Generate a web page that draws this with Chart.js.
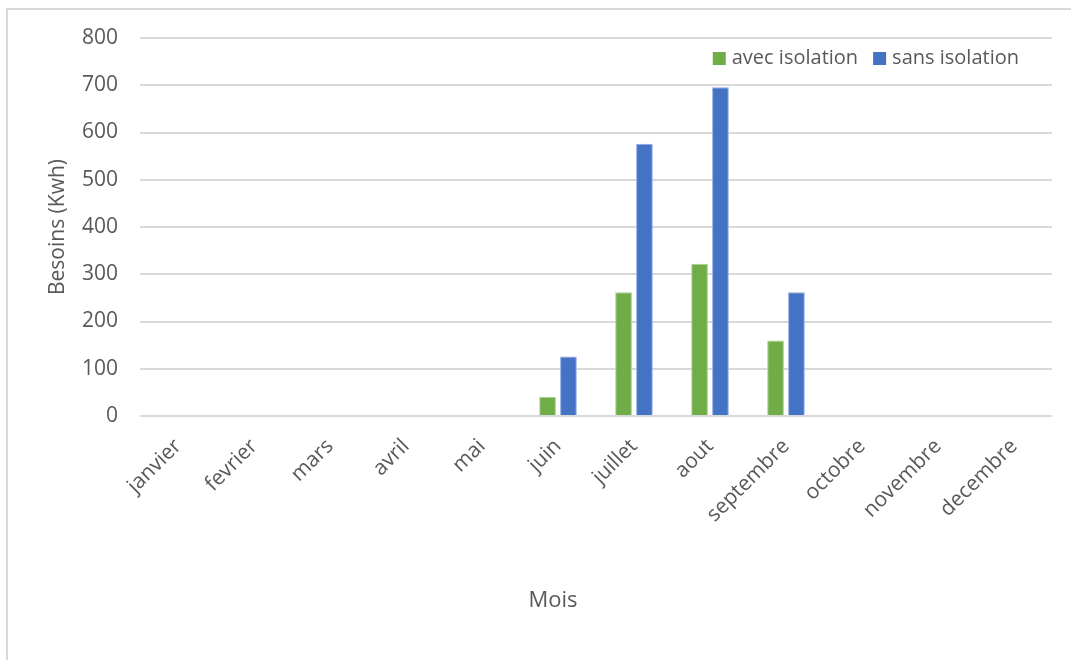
<!DOCTYPE html>
<html>
<head>
<meta charset="utf-8">
<script src="https://cdn.jsdelivr.net/npm/chart.js@4"></script>
<style>
  html, body { margin: 0; padding: 0; background: #fff; }
  #frame {
    position: absolute; left: 6px; top: 8px; width: 1080px; height: 700px;
    border-left: 2px solid #d9d9d9; border-top: 2px solid #d9d9d9;
  }
  #wrap { position: absolute; left: 0; top: 0; width: 1071px; height: 660px; }
</style>
</head>
<body>
<div id="frame"></div>
<div id="wrap"><canvas id="besoinsChart"></canvas></div>
<script>
const mois = ['janvier', 'fevrier', 'mars', 'avril', 'mai', 'juin',
  'juillet', 'aout', 'septembre', 'octobre', 'novembre', 'decembre'];
const avecIsolation = [0, 0, 0, 0, 0, 40, 262, 322, 160, 0, 0, 0];
const sansIsolation = [0, 0, 0, 0, 0, 126, 576, 696, 262, 0, 0, 0];
const yTicks = [0, 100, 200, 300, 400, 500, 600, 700, 800];

const textColor = '#595959';
const fontFamily = "'Open Sans', 'Noto Sans', sans-serif";

// "Mois" sits a bit left of the plot centre in the original
const moisTitle = {
    id: 'moisTitle',
    afterDraw(chart) {
        const ctx = chart.ctx;
        ctx.save();
        ctx.fillStyle = textColor;
        ctx.font = "22px " + fontFamily;
        ctx.textAlign = 'center';
        ctx.textBaseline = 'middle';
        ctx.fillText('Mois', 553, 601);
        ctx.restore();
    }
};

// legend drawn inside the plot, top right, right-aligned
const insideLegend = {
    id: 'insideLegend',
    afterDraw(chart) {
        const ctx = chart.ctx;
        const area = chart.chartArea;
        ctx.save();
        ctx.font = "20px " + fontFamily;
        ctx.textBaseline = 'middle';
        ctx.textAlign = 'left';
        const y = area.top + 20;
        let x = area.right - 33;
        const sets = chart.data.datasets.slice().reverse();
        sets.forEach(ds => {
            const w = ctx.measureText(ds.label).width;
            x -= w;
            ctx.fillStyle = textColor;
            ctx.fillText(ds.label, x, y);
            x -= 19;
            ctx.fillStyle = ds.backgroundColor;
            ctx.fillRect(x, y - 6, 13, 13);
            x -= 15;
        });
        ctx.restore();
    }
};

new Chart(document.getElementById('besoinsChart'), {
    type: 'bar',
    data: {
        labels: mois,
        datasets: [{
            label: 'avec isolation',
            data: avecIsolation,
            backgroundColor: '#70ad47',
            borderColor: '#a9d18e',
            borderWidth: 1
        }, {
            label: 'sans isolation',
            data: sansIsolation,
            backgroundColor: '#4472c4',
            borderColor: '#8faadc',
            borderWidth: 1
        }]
    },
    options: {
        responsive: true,
        maintainAspectRatio: false,
        animation: false,
        layout: { padding: { left: 45, top: 38, right: 19, bottom: 0 } },
        datasets: {
            bar: { categoryPercentage: 0.55, barPercentage: 0.8 }
        },
        scales: {
            x: {
                grid: { display: false, drawTicks: false },
                border: { display: false },
                ticks: {
                    color: textColor,
                    font: { family: fontFamily, size: 21 },
                    minRotation: 45,
                    maxRotation: 45,
                    padding: 18
                },
                afterFit(scale) { scale.height = 244; }
            },
            y: {
                min: 0,
                max: 800,
                afterBuildTicks(scale) { scale.ticks = yTicks.map(v => ({ value: v })); },
                grid: { color: '#d9d9d9', lineWidth: 2, drawTicks: false },
                border: { display: false },
                ticks: {
                    color: textColor,
                    font: { family: fontFamily, size: 21 },
                    padding: 22
                },
                title: {
                    display: true,
                    text: 'Besoins (Kwh)',
                    color: textColor,
                    font: { family: fontFamily, size: 21 },
                    padding: 0
                },
                afterFit(scale) { scale.width = 95; }
            }
        },
        plugins: {
            legend: { display: false },
            tooltip: { enabled: false }
        }
    },
    plugins: [moisTitle, insideLegend]
});
</script>
</body>
</html>
